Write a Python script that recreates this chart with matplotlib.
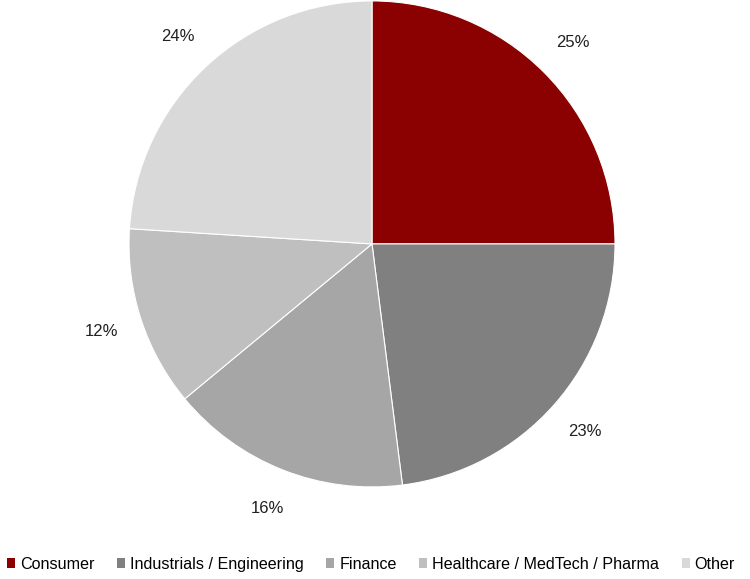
import matplotlib.pyplot as plt
from matplotlib.patches import Patch

plt.rcParams['font.family'] = ['Liberation Sans', 'DejaVu Sans']

# Sector split
sectors = ["Consumer", "Industrials / Engineering", "Finance",
           "Healthcare / MedTech / Pharma", "Other"]
shares = [25, 23, 16, 12, 24]
colors = ["#8B0000", "#808080", "#A6A6A6", "#BFBFBF", "#D9D9D9"]

fig = plt.figure(figsize=(7.5, 5.79), dpi=100)
ax = fig.add_axes([0.172, 0.159, 0.648, 0.8394])

ax.pie(shares, colors=colors, startangle=90, counterclock=False,
       autopct=lambda p: f"{p:.0f}%", pctdistance=1.17,
       wedgeprops=dict(edgecolor="white", linewidth=0.8),
       textprops=dict(fontsize=12, color="#202020"))
ax.set_xlim(-1, 1)
ax.set_ylim(-1, 1)
ax.set_aspect("equal")

handles = [Patch(facecolor=c, edgecolor="none") for c in colors]
fig.legend(handles, sectors, loc="lower left", bbox_to_anchor=(0.0, 0.0),
           ncol=5, frameon=False, fontsize=11.6, handlelength=0.5,
           handleheight=0.5, handletextpad=0.3, columnspacing=1.4,
           borderaxespad=0.15, borderpad=0.3)

fig.savefig("out.png", dpi=100)
